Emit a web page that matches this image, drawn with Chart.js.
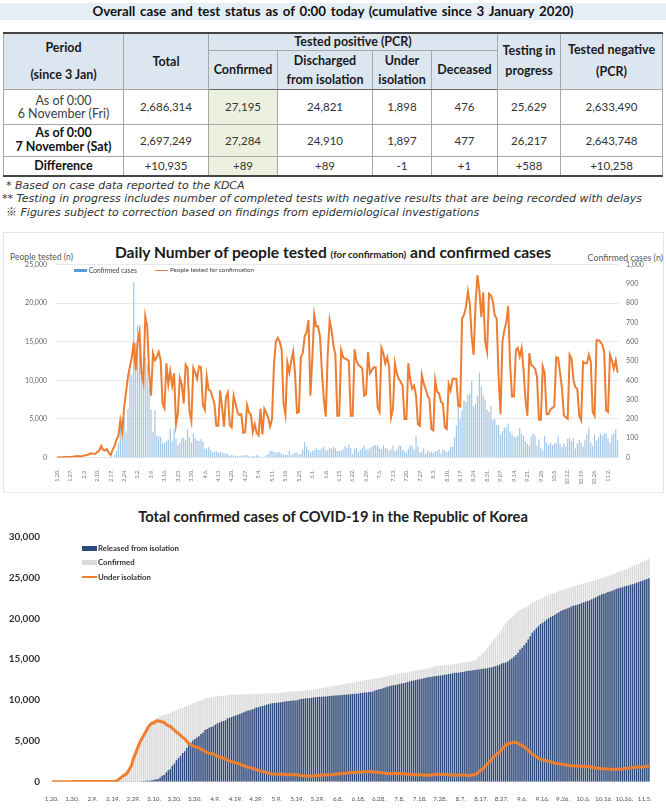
<!DOCTYPE html>
<html><head><meta charset="utf-8">
<script src="https://cdn.jsdelivr.net/npm/chart.js@4.4.1/dist/chart.umd.min.js"></script>
<style>
html,body{margin:0;padding:0;background:#fff;}
body{width:666px;height:811px;position:relative;overflow:hidden;font-family:Lato,"Noto Sans",sans-serif;color:#222;}
.abs{position:absolute;}
#titlebar{left:0;top:3px;width:666px;height:17px;background:#e4eef4;font-weight:bold;font-size:13.3px;line-height:17px;text-align:center;color:#111;word-spacing:1.5px;}
#tbl{position:absolute;left:3px;top:32px;width:659px;border-collapse:collapse;table-layout:fixed;}
#tbl td{padding:0;text-align:center;vertical-align:middle;border:1px solid #a8a8a8;font-size:11.5px;color:#333;}
#tbl td.h{background:#dce6f1;font-weight:bold;font-size:12.5px;color:#1a1a1a;}
#tbl td.g{background:#ebf1de;}
#tbl td.dr{border-right:1px dotted #8a8a8a;}
#tbl tr.top td{border-top:2px solid #444;}
#tbl tr.hb td{border-bottom:1.5px solid #666;}
#tbl tr.last td{border-bottom:2px solid #444;border-top:1px solid #777;}
.note{position:absolute;font-family:"DejaVu Sans",sans-serif;font-style:italic;font-size:11px;color:#333;white-space:nowrap;line-height:12px;}
.cjk{font-family:"Noto Sans CJK KR","Noto Sans CJK SC",sans-serif;font-style:normal;}
.ctitle{position:absolute;left:0;width:666px;text-align:center;font-weight:bold;white-space:nowrap;}
.sm{color:#595959;white-space:nowrap;}
.lg{position:absolute;white-space:nowrap;}
</style></head>
<body>
<div id="titlebar" class="abs">Overall case and test status as of 0:00 today (cumulative since 3 January 2020)</div>
<table id="tbl">
<colgroup><col style="width:120px"><col style="width:85px"><col style="width:69px"><col style="width:95px"><col style="width:59px"><col style="width:66px"><col style="width:63px"><col style="width:102px"></colgroup>
<tbody id="tb"></tbody>
</table>
<div class="note" style="left:6px;top:180px;"> * Based on case data reported to the KDCA</div>
<div class="note" style="left:2px;top:192.5px;">** Testing in progress includes number of completed tests with negative results that are being recorded with delays</div>
<div class="note" style="left:6px;top:205px;"><span class="cjk">※</span> Figures subject to correction based on findings from epidemiological investigations</div>

<div class="abs" style="left:3px;top:232px;width:659px;height:259px;border:1px solid #e4e4e4;border-bottom-color:#ececec;"></div>
<div class="ctitle" style="top:243px;line-height:18px;font-size:15.6px;color:#1a1a1a;">Daily Number of people tested <span style="font-size:9.8px;">(for confirmation)</span> and confirmed cases</div>
<div class="abs sm" style="left:10px;top:251.5px;font-size:8.6px;">People tested (n)</div>
<div class="abs sm" style="right:3px;top:251.5px;font-size:8.8px;">Confirmed cases (n)</div>
<canvas id="c1" class="abs" width="666" height="240" style="left:0;top:250px;"></canvas>
<div class="abs" style="left:74px;top:268.5px;width:13px;height:3px;background:#5b9bd5;"></div>
<div class="lg" style="left:89px;top:266px;font-size:6.6px;line-height:8px;color:#404040;" id="lg1a"></div>
<div class="abs" style="left:155px;top:269.5px;width:13px;height:1.5px;background:#ed7d31;"></div>
<div class="lg" style="left:170px;top:266px;font-size:6.3px;line-height:8px;color:#404040;" id="lg1b"></div>

<div class="ctitle" style="top:507px;line-height:18px;font-size:14.7px;color:#222;">Total confirmed cases of COVID-19 in the Republic of Korea</div>
<canvas id="c2" class="abs" width="666" height="291" style="left:0;top:520px;"></canvas>
<div class="abs" style="left:82px;top:546px;width:15px;height:5px;background:#2f4a7c;"></div>
<div class="lg" style="left:98px;top:544px;font-size:7.8px;line-height:9px;font-weight:bold;color:#333;" id="lg2a"></div>
<div class="abs" style="left:82px;top:560px;width:15px;height:5px;background:#d9d9d9;"></div>
<div class="lg" style="left:98px;top:558px;font-size:7.8px;line-height:9px;font-weight:bold;color:#333;" id="lg2b"></div>
<div class="abs" style="left:82px;top:576px;width:15px;height:2.4px;background:#ef7f2f;"></div>
<div class="lg" style="left:98px;top:572.5px;font-size:7.8px;line-height:9px;font-weight:bold;color:#333;" id="lg2c"></div>

<script>
// ---------- table data ----------
const periodLabels = [['As of 0:00','6 November (Fri)'],['As of 0:00','7 November (Sat)'],['Difference']];
const totalTested = ['2,686,314','2,697,249','+10,935'];
const confirmedT = ['27,195','27,284','+89'];
const dischargedT = ['24,821','24,910','+89'];
const isolationT = ['1,898','1,897','-1'];
const deceasedT = ['476','477','+1'];
const inProgressT = ['25,629','26,217','+588'];
const negativeT = ['2,633,490','2,643,748','+10,258'];

// ---------- chart 1 data ----------
const tickLabels1 = ['1.20.','1.27.','2.3.','2.10.','2.17.','2.24.','3.2.','3.9.','3.16.','3.23.','3.30.','4.6.','4.13.','4.20.','4.27.','5.4.','5.11.','5.18.','5.25.','6.1.','6.8.','6.15.','6.22.','6.29.','7.6.','7.13.','7.20.','7.27.','8.3.','8.10.','8.17.','8.24.','8.31.','9.07.','9.14.','9.21.','9.28.','10.5.','10.12.','10.19.','10.26.','11.2.'];
const seriesNames1 = ['Confirmed cases','People tested for confirmation'];
const dailyConfirmed = [
1,0,0,0,1,0,1,1,0,0,3,4,
1,3,0,1,3,4,0,0,2,2,1,0,0,0,0,1,1,1,15,34,75,190,210,207,130,253,449,427,909,
595,686,600,516,438,518,483,367,248,132,242,114,110,107,76,74,84,93,152,87,147,98,64,76,100,104,91,146,105,78,125,
101,89,86,94,81,47,47,53,39,27,30,32,25,27,27,22,22,18,8,13,9,11,8,6,10,10,10,14,9,4,
9,6,13,8,3,2,4,12,18,34,35,27,26,29,27,19,13,15,13,32,12,20,23,25,16,19,40,79,58,39,27,
35,38,49,39,39,51,57,38,38,50,45,56,48,34,36,34,43,59,49,67,48,17,46,51,28,39,51,62,42,43,
50,54,63,63,61,46,44,63,49,45,35,44,62,33,39,61,60,39,34,26,45,63,59,41,113,58,25,28,48,18,36,
31,30,23,34,33,43,20,43,36,28,34,54,56,103,166,279,197,246,297,288,324,332,397,266,280,320,441,371,323,299,248,
235,267,195,198,168,167,119,136,156,155,176,136,121,109,106,113,153,126,110,82,70,61,110,125,114,61,95,50,38,113,
77,63,75,64,73,75,114,69,54,72,58,97,102,84,99,47,73,91,76,58,91,119,155,77,61,119,88,103,125,114,126,
124,97,75,118,125,145,89];
const peopleTested = [
10,20,30,40,50,40,60,
80,100,120,150,180,150,120,
250,300,350,450,550,500,450,
700,900,1500,1000,900,1100,600,
300,1000,1500,2300,2800,4800,3300,
6600,8500,10500,11800,13000,14900,11300,
15000,16300,11000,9800,18300,17000,11000,
8000,13500,12600,13000,13700,12600,7000,
6400,12200,9500,11200,9300,10900,4300,
5800,10300,9500,7000,12000,11600,6000,
4700,11600,11000,10200,11800,11700,6800,
6200,10500,8800,8600,7800,7000,4100,
4100,8700,6500,4000,7800,8400,4200,
3900,8000,7000,5900,5500,5600,3200,
3300,6800,5800,5600,3300,4300,3200,
2900,6300,3000,6300,5800,5200,4000,
5000,12000,15000,15500,15000,14000,7000,
5500,12300,11000,12500,13700,10800,5800,
5900,13000,13500,15700,16200,17800,8000,
13000,18500,17000,17000,15700,11000,7500,
5300,13300,17800,16500,14500,13300,5400,
5400,13900,13000,12800,12700,12500,5400,
5400,14000,12500,12000,11800,11500,8000,
8200,13700,10900,11300,11700,11700,6500,
5900,14200,13500,12200,13000,11700,5200,
6300,12200,10900,10200,9800,9300,5000,
5000,12200,10000,8900,9300,8000,4300,
4100,10700,9600,8900,8000,7600,3700,
3500,10000,8500,8300,7200,7000,3900,
3700,9500,8700,10200,10200,10200,6700,
6600,18000,18500,19500,21500,20000,15600,
13300,20000,23600,21600,18200,21400,15000,
13700,21200,21000,20200,18400,18000,10500,
5600,15000,16500,17500,19600,12000,7900,
7900,13900,14200,13100,14200,11400,7500,
5400,13500,12000,11800,11500,10500,4900,
4900,11800,10900,5600,5600,6200,6400,
6600,13000,12900,11000,9000,5500,5200,
5000,13300,12800,10000,9100,8900,5400,
4800,12400,12200,12200,13300,12400,5900,
5400,15200,15200,15000,14600,13700,6100,
5900,13300,12600,11500,12600,11000];

// ---------- chart 2 data ----------
const tickLabels2 = ['1.20.','1.30.','2.9.','2.19.','2.29.','3.10.','3.20.','3.30.','4.9.','4.19.','4.29.','5.9.','5.19.','5.29.','6.8.','6.18.','6.28.','7.8.','7.18.','7.28.','8.7.','8.17.','8.27.','9.6.','9.16.','9.26.','10.6.','10.16.','10.26.','11.5.'];
const seriesNames2 = ['Released from isolation','Confirmed','Under isolation'];
const cumConfirmed = [
1,1,1,1,2,2,3,4,4,4,7,11,
12,15,15,16,19,23,23,23,25,27,28,28,28,28,28,29,30,31,46,80,155,345,555,762,892,1145,1594,2021,2930,
3525,4211,4811,5327,5765,6283,6766,7133,7381,7513,7755,7869,7979,8086,8162,8236,8320,8413,8565,8652,8799,8897,8961,9037,9137,9241,9332,9478,9583,9661,9786,
9887,9976,10062,10156,10237,10284,10331,10384,10423,10450,10480,10512,10537,10564,10591,10613,10635,10653,10661,10674,10683,10694,10702,10708,10718,10728,10738,10752,10761,10765,
10774,10780,10793,10801,10804,10806,10810,10822,10840,10874,10909,10936,10962,10991,11018,11037,11050,11065,11078,11110,11122,11142,11165,11190,11206,11225,11265,11344,11402,11441,11468,
11503,11541,11590,11629,11668,11719,11776,11814,11852,11902,11947,12003,12051,12085,12121,12155,12198,12257,12306,12373,12421,12438,12484,12535,12563,12602,12653,12715,12757,12800,
12850,12904,12967,13030,13091,13137,13181,13244,13293,13338,13373,13417,13479,13512,13551,13612,13672,13711,13745,13771,13816,13879,13938,13979,14092,14150,14175,14203,14251,14269,14305,
14336,14366,14389,14423,14456,14499,14519,14562,14598,14626,14660,14714,14770,14873,15039,15318,15515,15761,16058,16346,16670,17002,17399,17665,17945,18265,18706,19077,19400,19699,19947,
20182,20449,20644,20842,21010,21177,21296,21432,21588,21743,21919,22055,22176,22285,22391,22504,22657,22783,22893,22975,23045,23106,23216,23341,23455,23516,23611,23661,23699,23812,
23889,23952,24027,24091,24164,24239,24353,24422,24476,24548,24606,24703,24805,24889,24988,25035,25108,25199,25275,25333,25424,25543,25698,25775,25836,25955,26043,26146,26271,26385,26511,
26635,26732,26807,26925,27050,27195,27284];
const cumReleased = [
0,0,0,0,0,0,0,0,0,0,0,0,
0,0,0,0,1,2,2,2,3,3,4,7,7,7,9,9,10,12,12,16,16,16,18,18,22,22,22,22,22,
30,30,30,41,88,108,118,130,166,247,288,333,510,714,834,1137,1407,1540,1947,2233,2612,2909,3166,3507,3730,4144,4528,4811,5033,5228,5408,
5567,5828,6021,6325,6463,6598,6694,6776,6973,7117,7243,7368,7447,7534,7757,7829,7937,8042,8114,8213,8277,8411,8501,8635,8717,8764,8854,8922,9072,9123,
9217,9283,9333,9419,9484,9568,9610,9632,9670,9695,9720,9762,9821,9851,9888,9904,9937,9938,9970,10066,10135,10162,10194,10213,10226,10275,10295,10340,10363,10398,10405,
10422,10446,10467,10506,10531,10552,10564,10591,10600,10611,10654,10669,10691,10718,10730,10760,10774,10795,10856,10881,10908,10930,10970,11009,11060,11172,11227,11317,11364,11429,
11537,11613,11684,11759,11811,11848,11914,11970,12019,12065,12129,12204,12282,12348,12396,12464,12519,12559,12610,12674,12721,12785,12809,12847,12905,12929,12959,13007,13030,13086,13117,
13183,13233,13280,13343,13352,13364,13394,13440,13482,13543,13592,13616,13642,13681,13727,13745,13787,13817,13863,13901,13948,14006,14063,14123,14219,14325,14461,14538,14606,14732,14918,
15100,15300,15500,15800,16146,16400,16700,17000,17400,17800,18250,18500,18800,19050,19300,19460,19650,19850,20000,20160,20300,20450,20600,20750,20900,21015,21130,21219,21302,21449,
21534,21616,21679,21771,21852,21954,22047,22124,22216,22346,22454,22590,22721,22835,22950,23016,23107,23218,23301,23379,23477,23584,23685,23750,23809,23888,23953,24025,24108,24181,24267,
24369,24454,24555,24641,24725,24821,24910];
const underIsolation = [
1,1,1,1,2,2,3,4,4,4,7,11,
12,15,15,16,18,21,21,21,22,24,24,21,21,21,19,20,20,19,34,63,137,327,532,737,860,1111,1559,1983,2891,
3478,4159,4753,5254,5642,6133,6604,6953,7164,7212,7407,7470,7402,7300,7253,7024,6832,6789,6527,6325,6085,5884,5684,5410,5281,4966,4665,4523,4398,4275,4216,
4155,3979,3867,3654,3591,3500,3445,3408,3246,3125,3026,2930,2873,2808,2609,2555,2468,2379,2313,2225,2169,2045,1961,1833,1761,1722,1641,1586,1443,1395,
1307,1247,1210,1130,1066,983,944,934,914,923,933,916,882,880,870,871,851,864,845,781,723,716,705,711,713,681,701,735,770,774,793,
810,823,850,850,864,894,939,950,978,1015,1017,1057,1083,1090,1114,1117,1145,1182,1170,1212,1233,1228,1233,1245,1221,1148,1144,1116,1111,1089,
1030,1008,1000,987,995,1004,982,989,989,985,956,924,908,875,866,859,860,858,840,801,799,797,832,835,889,923,917,896,921,883,887,
852,832,808,779,802,833,822,818,812,779,763,793,823,887,1007,1268,1423,1638,1889,2138,2413,2687,3027,3233,3416,3628,3932,4224,4478,4646,4705,
4756,4820,4813,4711,4531,4443,4260,4091,3844,3597,3319,3200,3018,2877,2728,2677,2635,2556,2515,2432,2361,2268,2228,2198,2160,2100,2080,2040,1990,1950,
1940,1920,1930,1900,1890,1860,1880,1870,1830,1770,1720,1680,1650,1620,1600,1580,1560,1540,1530,1510,1500,1510,1560,1570,1570,1610,1630,1660,1700,1740,1780,
1800,1810,1780,1810,1850,1898,1897];

// ---------- build table ----------
(function(){
  const tb = document.getElementById('tb');
  let h = '';
  h += '<tr class="top" style="height:17px"><td class="h" rowspan="2"><div style="line-height:27px">Period<br>(since 3 Jan)</div></td>'
     + '<td class="h" rowspan="2">Total</td><td class="h" colspan="4">Tested positive (PCR)</td>'
     + '<td class="h" rowspan="2"><div style="line-height:20px">Testing in<br>progress</div></td>'
     + '<td class="h" rowspan="2"><div style="line-height:22px">Tested negative<br>(PCR)</div></td></tr>';
  h += '<tr class="hb" style="height:36px"><td class="h">Confirmed</td><td class="h dr"><div style="line-height:19px">Discharged<br>from isolation</div></td>'
     + '<td class="h dr"><div style="line-height:19px">Under<br>isolation</div></td><td class="h">Deceased</td></tr>';
  const rowH = [35, 32, 20];
  const lh = [13, 14, 16];
  for (let r = 0; r < 3; r++) {
    const bold = r > 0;
    const lab = '<div style="line-height:' + lh[r] + 'px;' + (bold ? 'font-weight:bold;color:#111;font-size:12.5px;' : 'color:#404040;font-size:12.5px;') + '">' + periodLabels[r].join('<br>') + '</div>';
    h += '<tr' + (r === 2 ? ' class="last"' : '') + ' style="height:' + rowH[r] + 'px">'
       + '<td>' + lab + '</td><td>' + totalTested[r] + '</td><td class="g">' + confirmedT[r] + '</td>'
       + '<td class="dr">' + dischargedT[r] + '</td><td class="dr">' + isolationT[r] + '</td><td>' + deceasedT[r] + '</td>'
       + '<td>' + inProgressT[r] + '</td><td>' + negativeT[r] + '</td></tr>';
  }
  tb.innerHTML = h;
  document.getElementById('lg1a').textContent = seriesNames1[0];
  document.getElementById('lg1b').textContent = seriesNames1[1];
  document.getElementById('lg2a').textContent = seriesNames2[0];
  document.getElementById('lg2b').textContent = seriesNames2[1];
  document.getElementById('lg2c').textContent = seriesNames2[2];
})();

// ---------- categories (one per day, 20 Jan – 7 Nov 2020) ----------
const dayLabels = [];
for (let i = 0; i < dailyConfirmed.length; i++) {
  const d = new Date(2020, 0, 20 + i);
  dayLabels.push((d.getMonth() + 1) + '.' + d.getDate() + '.');
}

Chart.defaults.font.family = 'Lato, "Noto Sans", sans-serif';
const fmt = v => Number(v).toLocaleString('en-US');

new Chart(document.getElementById('c1'), {
  type: 'bar',
  data: {
    labels: dayLabels,
    datasets: [
      { type: 'line', label: seriesNames1[1], data: peopleTested, yAxisID: 'y', borderColor: '#ed7d31', borderWidth: 2, pointRadius: 0, tension: 0, order: 0 },
      { type: 'bar', label: seriesNames1[0], data: dailyConfirmed, yAxisID: 'y1', backgroundColor: '#9fc4e6', barPercentage: 0.6, categoryPercentage: 1, order: 1 }
    ]
  },
  options: {
    responsive: false, animation: false, events: [],
    layout: { padding: { top: 14.5, left: 0, right: 0, bottom: 0 } },
    plugins: { legend: { display: false }, tooltip: { enabled: false } },
    scales: {
      x: {
        offset: true, grid: { display: false }, border: { display: false },
        ticks: { autoSkip: false, maxRotation: 90, minRotation: 90, padding: 4, color: '#7a7a7a', font: { size: 5.5 },
          callback: (v, i) => (i % 7 === 0 ? tickLabels1[i / 7] : '') },
        afterFit: s => { s.height = 32.5; }
      },
      y: {
        position: 'left', min: 0, max: 25000,
        ticks: { stepSize: 5000, padding: 9, color: '#666', font: { size: 7 }, callback: fmt },
        grid: { color: '#e9e9e9', drawTicks: false }, border: { display: false },
        afterFit: s => { s.width = 56; }
      },
      y1: {
        position: 'right', min: 0, max: 1000,
        ticks: { stepSize: 100, padding: 7.5, color: '#666', font: { size: 7 }, callback: fmt },
        grid: { display: false, drawTicks: false }, border: { display: false },
        afterFit: s => { s.width = 47.4; }
      }
    }
  }
});

new Chart(document.getElementById('c2'), {
  type: 'bar',
  data: {
    labels: dayLabels,
    datasets: [
      { type: 'line', label: seriesNames2[2], data: underIsolation, borderColor: '#ef7f2f', borderWidth: 3, pointRadius: 0, tension: 0, order: 0 },
      { type: 'bar', label: seriesNames2[0], data: cumReleased, backgroundColor: '#2f4a7c', barPercentage: 0.72, categoryPercentage: 1, grouped: false, order: 1 },
      { type: 'bar', label: seriesNames2[1], data: cumConfirmed, backgroundColor: '#d9d9d9', barPercentage: 0.72, categoryPercentage: 1, grouped: false, order: 2 }
    ]
  },
  options: {
    responsive: false, animation: false, events: [],
    layout: { padding: { top: 9.3, left: 0, right: 16.1, bottom: 0 } },
    plugins: { legend: { display: false }, tooltip: { enabled: false } },
    scales: {
      x: {
        offset: true, grid: { display: false }, border: { display: false },
        ticks: { autoSkip: false, maxRotation: 0, minRotation: 0, padding: 5, color: '#555', font: { size: 6.3 },
          callback: (v, i) => (i % 10 === 0 ? tickLabels2[i / 10] : '') },
        afterFit: s => { s.height = 29.3; }
      },
      y: {
        min: 0, max: 30000,
        ticks: { stepSize: 5000, padding: 10.7, color: '#333', font: { size: 10, weight: 'bold' }, callback: fmt },
        grid: { display: false, drawTicks: false }, border: { display: false },
        afterFit: s => { s.width = 50.7; }
      }
    }
  }
});
</script>
</body></html>
